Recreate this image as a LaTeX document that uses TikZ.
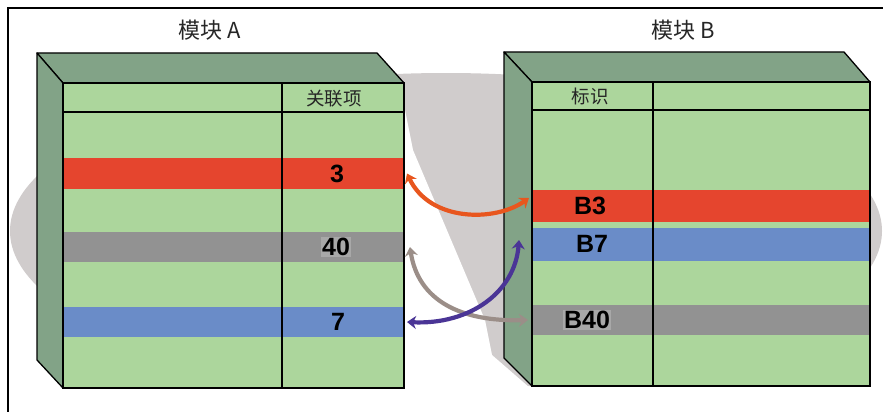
\documentclass[tikz,border=0pt]{standalone}
\usepackage{fontspec}
\setmainfont{Liberation Sans}
\newfontfamily\cjk{Noto Sans CJK SC}
\usetikzlibrary{arrows.meta}
\definecolor{lightgreen}{HTML}{ACD69C}
\definecolor{darkgreen}{HTML}{82A387}
\definecolor{bandred}{HTML}{E5452E}
\definecolor{bandgray}{HTML}{929292}
\definecolor{bandblue}{HTML}{6A8CC8}
\definecolor{shadowgray}{HTML}{D0CCCC}
\definecolor{arrowred}{HTML}{E8561E}
\definecolor{arrowgray}{HTML}{9B8E88}
\definecolor{arrowpurple}{HTML}{4A3596}
\definecolor{titlegray}{HTML}{262626}
\tikzset{
  face/.style={draw=black, line width=1.3pt, fill=lightgreen, inner sep=0pt, outer sep=0pt},
  sideface/.style={draw=black, line width=1.3pt, fill=darkgreen, line join=round},
  band/.style={draw=none, inner sep=0pt, outer sep=0pt},
  divider/.style={draw=black, line width=1.1pt},
  num/.style={font=\fontsize{25}{27}\selectfont\bfseries, inner sep=1pt},
  hdr/.style={font=\cjk\fontsize{18.5}{20}\selectfont, text=titlegray},
  ttl/.style={font=\cjk\fontsize{22}{24}\selectfont, text=titlegray},
  link/.style={line width=4.2pt, {Stealth[length=9pt,width=13pt]}-{Stealth[length=9pt,width=13pt]}}
}
\begin{document}
\begin{tikzpicture}[x=1pt,y=-1pt]
\useasboundingbox (0,0) rectangle (883,412);
\fill[white] (0,0) rectangle (883,412);
% frame
\draw[line width=1.2pt] (8,412) -- (8,8) -- (883,8);
% background shadow disc
\fill[shadowgray] (446,231) ellipse [x radius=436, y radius=158];
\fill[white] (404,105) -- (413,150) -- (485,320) -- (492,355) -- (530,388) -- (530,412) -- (404,412) -- cycle;

% ---------- block A ----------
\node[face, minimum width=341pt, minimum height=305pt] (fa) at (233.5,235.5) {};
\draw[sideface] (37,53) -- (377,53) -- (fa.north east) -- (fa.north west) -- cycle;
\draw[sideface] (37,53) -- (fa.north west) -- (fa.south west) -- (37,360) -- cycle;
\node[band, fill=bandred,  minimum width=341pt, minimum height=31pt] (ar) at (233.5,173.5) {};
\node[band, fill=bandgray, minimum width=341pt, minimum height=30pt] (ag) at (233.5,247) {};
\node[band, fill=bandblue, minimum width=341pt, minimum height=30pt] (ab) at (233.5,322) {};
\draw[divider] (fa.west |- 0,112) -- (fa.east |- 0,112);
\draw[divider] (282,83) -- (282,388);
\draw[line width=1.3pt] (fa.north west) rectangle (fa.south east);
\node[hdr] (ha) at (334,99) {关联项};
\node[num] (t3) at (337,174) {3};
\node[num, fill=bandgray!80!white] (t40) at (336,247) {40};
\node[num] (t7) at (338,322) {7};
\node[ttl] (tA) at (210,30) {模块 A};

% ---------- block B ----------
\node[face, minimum width=338pt, minimum height=304pt] (fb) at (701,234) {};
\draw[sideface] (504,52) -- (844,52) -- (fb.north east) -- (fb.north west) -- cycle;
\draw[sideface] (504,52) -- (fb.north west) -- (fb.south west) -- (504,358) -- cycle;
\node[band, fill=bandred,  minimum width=338pt, minimum height=32pt] (br) at (701,206) {};
\node[band, fill=bandblue, minimum width=338pt, minimum height=33pt] (bb) at (701,244.5) {};
\node[band, fill=bandgray, minimum width=338pt, minimum height=30pt] (bg) at (701,320) {};
\draw[divider] (fb.west |- 0,110) -- (fb.east |- 0,110);
\draw[divider] (653,82) -- (653,386);
\draw[line width=1.3pt] (fb.north west) rectangle (fb.south east);
\node[hdr] (hb) at (590,96) {标识};
\node[num] (tb3) at (590,206) {B3};
\node[num] (tb7) at (592,244) {B7};
\node[num, fill=bandgray!80!white] (tb40) at (587,320) {B40};
\node[ttl] (tB) at (683,30) {模块 B};

% ---------- connectors ----------
\coordinate (p1s) at ([xshift=3pt]ar.east);
\coordinate (p1e) at ([xshift=-3pt,yshift=8pt]br.west);
\coordinate (p2s) at ([xshift=6pt]ag.east);
\coordinate (p2e) at ([xshift=-4pt]bg.west);
\coordinate (p3s) at ([xshift=3pt]ab.east);
\coordinate (p3e) at ([xshift=-13pt,yshift=4.5pt]bb.west);
\draw[link, arrowgray] (p2s) .. controls (418,300) and (460,322) .. (p2e);
\draw[link, arrowpurple] (p3s) .. controls (470,325) and (515,292) .. (p3e);
\draw[link, arrowred] (p1s) .. controls (430,222) and (495,222) .. (p1e);
\end{tikzpicture}
\end{document}
